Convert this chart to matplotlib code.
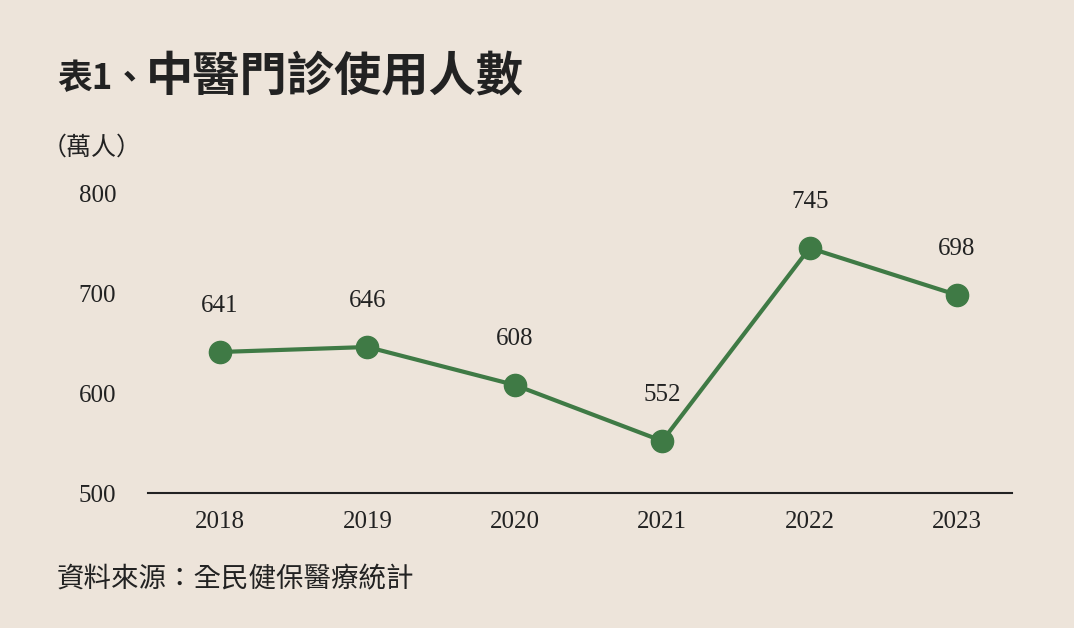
import matplotlib
matplotlib.use("Agg")
import matplotlib.pyplot as plt

years = [2018, 2019, 2020, 2021, 2022, 2023]
values = [641, 646, 608, 552, 745, 698]
yticks = [500, 600, 700, 800]

BG = "#ede4da"
GREEN = "#3f7a45"
TXT = "#222222"
SERIF = ["Liberation Serif", "DejaVu Serif"]
CJK = ["Noto Sans CJK TC", "DejaVu Sans"]

fig = plt.figure(figsize=(10.74, 6.28), dpi=100, facecolor=BG)
ax = fig.add_axes([148/1074, 1-493/628, (1012-148)/1074, (493-193)/628])
ax.set_facecolor(BG)

ax.plot(years, values, color=GREEN, lw=3, marker="o", ms=16, mfc=GREEN, mec=GREEN, zorder=3,
        clip_on=False)
for x, v in zip(years, values):
    ax.annotate(str(v), (x, v), xytext=(0, 33), textcoords="offset points",
                ha="center", va="center", fontsize=18, family=SERIF, color=TXT)

ax.set_xlim(2017.511, 2023.373)
ax.set_ylim(500, 800)
ax.set_xticks(years)
ax.set_xticklabels([str(y) for y in years], family=SERIF, fontsize=18, color=TXT)
ax.set_yticks(yticks)
ax.set_yticklabels([str(y) for y in yticks], family=SERIF, fontsize=18, color=TXT)
ax.tick_params(axis="x", length=0, pad=13)
ax.tick_params(axis="y", length=0, pad=23)
for s in ["top", "right", "left"]:
    ax.spines[s].set_visible(False)
ax.spines["bottom"].set_color(TXT)
ax.spines["bottom"].set_linewidth(1.5)

fig.text(57/1074, 1-79/628, "表1、", fontsize=25, family=CJK, fontweight="bold",
         color=TXT, va="center", ha="left")
fig.text(146/1074, 1-77/628, "中醫門診使用人數", fontsize=34, family=CJK, fontweight="bold",
         color=TXT, va="center", ha="left")
fig.text(42/1074, 1-148/628, "（萬人）", fontsize=18, family=CJK, color=TXT,
         va="center", ha="left")
fig.text(57/1074, 1-580/628, "資料來源：全民健保醫療統計", fontsize=19.8, family=CJK,
         color=TXT, va="center", ha="left")

fig.savefig("out.png", dpi=100, facecolor=BG)
